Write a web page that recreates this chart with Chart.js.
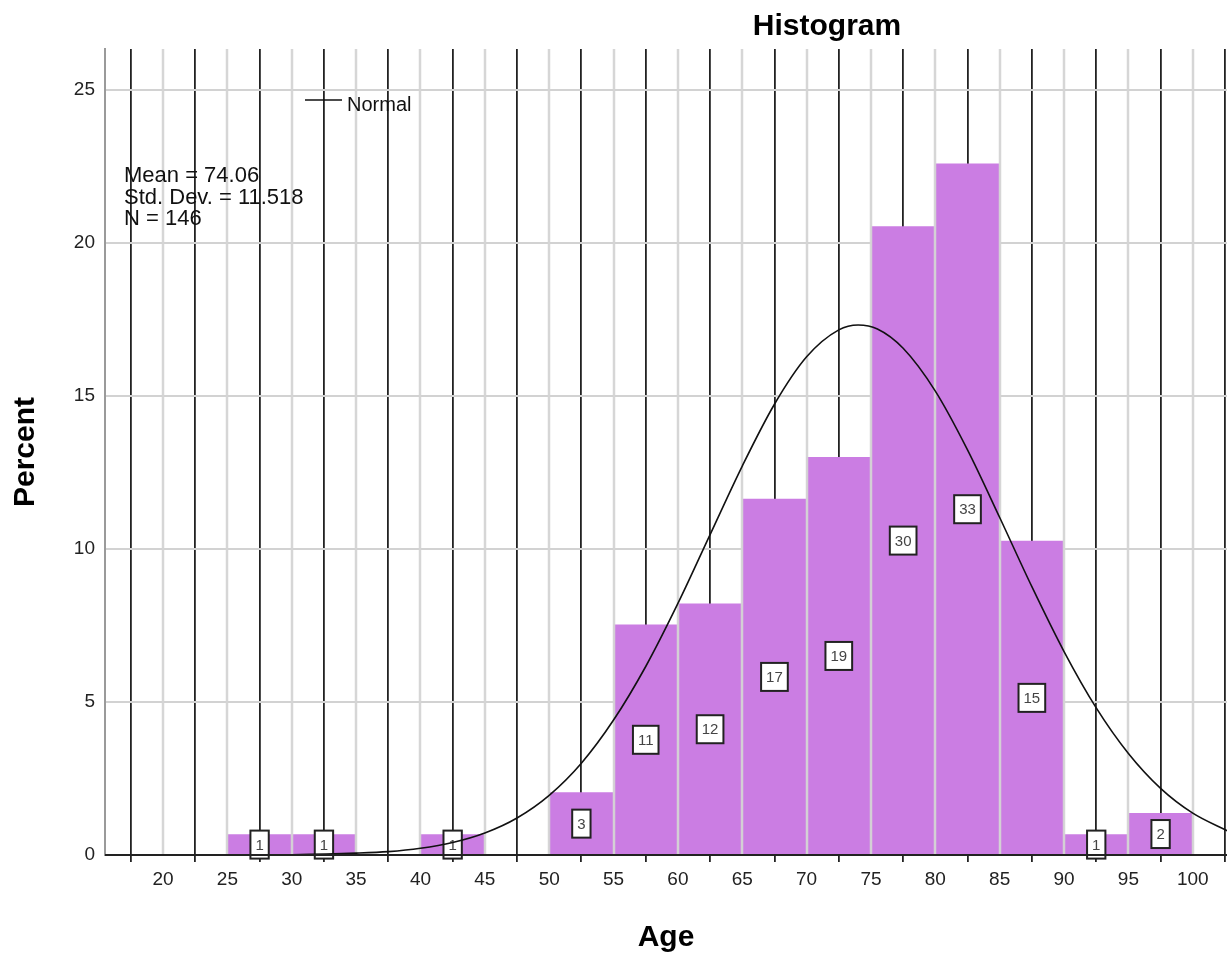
<!DOCTYPE html>
<html>
<head>
<meta charset="utf-8">
<script src="https://cdn.jsdelivr.net/npm/chart.js@4.4.0/dist/chart.umd.min.js"></script>
<style>
  html, body { margin: 0; padding: 0; background: #fff; }
  #wrap { width: 1227px; height: 956px; position: relative; overflow: hidden; }
</style>
</head>
<body>
<div id="wrap"><canvas id="c" width="1227" height="956"></canvas></div>
<script>
// ---- data ----
const binCenters = [27.5, 32.5, 42.5, 52.5, 57.5, 62.5, 67.5, 72.5, 77.5, 82.5, 87.5, 92.5, 97.5];
const binCounts  = [1, 1, 1, 3, 11, 12, 17, 19, 30, 33, 15, 1, 2];
const binPercent = [0.68, 0.68, 0.68, 2.05, 7.53, 8.22, 11.64, 13.01, 20.55, 22.60, 10.27, 0.68, 1.37];

const normalX = [15.5, 20, 25, 30, 35, 37.5, 40, 42.5, 45, 47.5, 50, 52.5, 55, 57.5, 60, 62.5, 65, 67.5, 70, 72.5, 74, 75.5, 77.5, 80, 82.5, 85, 87.5, 90, 92.5, 95, 97.5, 100, 102.8];
const normalY = [0.00, 0.00, 0.00, 0.01, 0.06, 0.11, 0.22, 0.41, 0.72, 1.21, 1.95, 3.00, 4.41, 6.16, 8.22, 10.47, 12.71, 14.73, 16.28, 17.16, 17.32, 17.19, 16.56, 15.16, 13.24, 11.03, 8.77, 6.65, 4.81, 3.32, 2.18, 1.37, 0.77];

const xLabelValues = [20, 25, 30, 35, 40, 45, 50, 55, 60, 65, 70, 75, 80, 85, 90, 95, 100];
const xCenterTicks = [17.5, 22.5, 27.5, 32.5, 37.5, 42.5, 47.5, 52.5, 57.5, 62.5, 67.5, 72.5, 77.5, 82.5, 87.5, 92.5, 97.5, 102.5];
const yTickValues = [0, 5, 10, 15, 20, 25];

const statLines = ['Mean = 74.06', 'Std. Dev. = 11.518', 'N = 146'];
const chartTitle = 'Histogram';
const legendLabel = 'Normal';

const FONT = '"Liberation Sans", Arial, sans-serif';
const BAR_COLOR = '#CB7DE3';

const overlayPlugin = {
  id: 'overlay',
  afterDatasetDraw(chart, args) {
    if (args.index !== 1) return;
    const ctx = chart.ctx;
    const x = chart.scales.x, y = chart.scales.y;
    const area = chart.chartArea;
    ctx.save();
    // light grid lines at bin edges (over the bars)
    ctx.strokeStyle = 'rgba(212,212,212,0.95)';
    ctx.lineWidth = 2.5;
    xLabelValues.forEach(v => {
      const px = Math.round(x.getPixelForValue(v));
      ctx.beginPath();
      ctx.moveTo(px, area.top);
      ctx.lineTo(px, area.bottom);
      ctx.stroke();
    });
    // count boxes
    ctx.font = '15px ' + FONT;
    ctx.textAlign = 'center';
    ctx.textBaseline = 'middle';
    binCenters.forEach((c, i) => {
      const px = x.getPixelForValue(c);
      const py = y.getPixelForValue(binPercent[i] / 2);
      const txt = String(binCounts[i]);
      const w = ctx.measureText(txt).width + 10;
      const h = 28;
      ctx.fillStyle = '#fff';
      ctx.fillRect(px - w / 2, py - h / 2, w, h);
      ctx.strokeStyle = '#222';
      ctx.lineWidth = 2;
      ctx.strokeRect(px - w / 2, py - h / 2, w, h);
      ctx.fillStyle = '#444';
      ctx.fillText(txt, px, py + 1);
    });
    ctx.restore();
  },
  afterDatasetsDraw(chart) {
    const ctx = chart.ctx;
    const area = chart.chartArea;
    const y = chart.scales.y;
    ctx.save();
    ctx.strokeStyle = '#222';
    ctx.lineWidth = 2;
    const py = Math.round(y.getPixelForValue(0));
    ctx.beginPath();
    ctx.moveTo(area.left, py);
    ctx.lineTo(area.right, py);
    ctx.stroke();
    ctx.restore();
  },
  afterDraw(chart) {
    const ctx = chart.ctx;
    ctx.save();
    // title
    ctx.fillStyle = '#000';
    ctx.font = 'bold 30px ' + FONT;
    ctx.textAlign = 'center';
    ctx.textBaseline = 'alphabetic';
    ctx.fillText(chartTitle, 827, 35);
    // legend
    ctx.strokeStyle = '#111';
    ctx.lineWidth = 1.5;
    ctx.beginPath();
    ctx.moveTo(305, 100);
    ctx.lineTo(342, 100);
    ctx.stroke();
    ctx.font = '20px ' + FONT;
    ctx.textAlign = 'left';
    ctx.fillStyle = '#111';
    ctx.fillText(legendLabel, 347, 111);
    // stats
    ctx.font = '22px ' + FONT;
    statLines.forEach((s, i) => {
      ctx.fillText(s, 124, 182 + i * 21.5);
    });
    ctx.restore();
  }
};

new Chart(document.getElementById('c'), {
  data: {
    datasets: [
      {
        type: 'line',
        label: legendLabel,
        data: normalX.map((v, i) => ({ x: v, y: normalY[i] })),
        borderColor: '#111',
        borderWidth: 1.6,
        pointRadius: 0,
        fill: false,
        cubicInterpolationMode: 'monotone',
        order: 0
      },
      {
        type: 'bar',
        label: 'Percent',
        data: binCenters.map((v, i) => ({ x: v, y: binPercent[i] })),
        backgroundColor: BAR_COLOR,
        borderWidth: 0,
        barPercentage: 1,
        categoryPercentage: 2,
        grouped: false,
        order: 1
      }
    ]
  },
  options: {
    responsive: false,
    animation: false,
    devicePixelRatio: 1,
    layout: { padding: { top: 49, right: 0, left: 0, bottom: 0 } },
    plugins: {
      legend: { display: false },
      tooltip: { enabled: false },
      title: { display: false }
    },
    scales: {
      x: {
        type: 'linear',
        offset: false,
        min: 15.49,
        max: 102.66,
        afterFit(s) { s.height = 101; s.paddingLeft = 0; s.paddingRight = 0; },
        afterBuildTicks(s) {
          const vals = xCenterTicks.concat(xLabelValues).sort((a, b) => a - b);
          s.ticks = vals.map(v => ({ value: v }));
        },
        grid: {
          offset: false,
          color: c => (c.tick && c.tick.value % 5 !== 0) ? '#222' : 'rgba(0,0,0,0)',
          tickColor: c => (c.tick && c.tick.value % 5 !== 0) ? '#222' : 'rgba(0,0,0,0)',
          lineWidth: 1.8,
          tickLength: 7,
          drawOnChartArea: true
        },
        border: { display: true, color: '#222', width: 2 },
        ticks: {
          autoSkip: false,
          maxRotation: 0,
          padding: 6,
          color: '#222',
          font: { family: FONT, size: 19 },
          callback: v => (v % 5 === 0 ? String(v) : '')
        },
        title: {
          display: true,
          text: 'Age',
          color: '#000',
          font: { family: FONT, size: 30, weight: 'bold' },
          padding: { top: 0, bottom: 0 }
        }
      },
      y: {
        type: 'linear',
        min: 0,
        max: 26.34,
        afterFit(s) { s.width = 105; },
        afterBuildTicks(s) { s.ticks = yTickValues.map(v => ({ value: v })); },
        grid: {
          color: '#d2d2d2',
          lineWidth: 2,
          drawTicks: false
        },
        border: { display: true, color: '#9a9a9a', width: 2 },
        ticks: {
          padding: 10,
          color: '#222',
          font: { family: FONT, size: 19 }
        },
        title: {
          display: true,
          text: 'Percent',
          color: '#000',
          font: { family: FONT, size: 30, weight: 'bold' },
          padding: { top: 8, bottom: 0 }
        }
      }
    }
  },
  plugins: [overlayPlugin]
});
</script>
</body>
</html>
